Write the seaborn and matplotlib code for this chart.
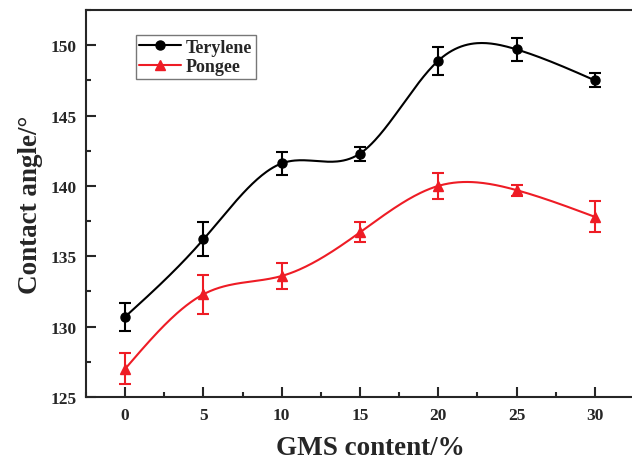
import numpy as np
import pandas as pd
import matplotlib
matplotlib.use("Agg")
import matplotlib.pyplot as plt
from matplotlib.lines import Line2D
import seaborn as sns

gms = [0, 5, 10, 15, 20, 25, 30]
terylene = [130.7, 136.2, 141.6, 142.3, 148.9, 149.7, 147.5]
terylene_err = [1.0, 1.2, 0.8, 0.5, 1.0, 0.8, 0.5]
pongee = [127.0, 132.3, 133.6, 136.7, 140.0, 139.7, 137.8]
pongee_err = [1.1, 1.4, 0.9, 0.7, 0.9, 0.4, 1.1]


def natural_spline(x, y, n=300):
    # natural cubic spline through the points, like Origin's "spline" connect
    x = np.asarray(x, float)
    y = np.asarray(y, float)
    k = len(x)
    h = np.diff(x)
    A = np.zeros((k, k))
    b = np.zeros(k)
    A[0, 0] = A[-1, -1] = 1
    for i in range(1, k - 1):
        A[i, i - 1] = h[i - 1]
        A[i, i] = 2 * (h[i - 1] + h[i])
        A[i, i + 1] = h[i]
        b[i] = 6 * ((y[i + 1] - y[i]) / h[i] - (y[i] - y[i - 1]) / h[i - 1])
    m = np.linalg.solve(A, b)
    xs = np.linspace(x[0], x[-1], n)
    idx = np.clip(np.searchsorted(x, xs) - 1, 0, k - 2)
    x0, x1 = x[idx], x[idx + 1]
    hh = x1 - x0
    t0, t1 = x1 - xs, xs - x0
    ys = (m[idx] * t0**3 + m[idx + 1] * t1**3) / (6 * hh) \
        + (y[idx] / hh - m[idx] * hh / 6) * t0 \
        + (y[idx + 1] / hh - m[idx + 1] * hh / 6) * t1
    return xs, ys


sns.set_style("ticks")
plt.rcParams["font.family"] = ["Liberation Serif", "DejaVu Serif"]
plt.rcParams["font.weight"] = "bold"

fig = plt.figure(figsize=(6.32, 4.6), dpi=100)
ax = fig.add_axes([86 / 632, 62 / 460, 548 / 632, 387 / 460])

series = [
    ("Terylene", terylene, terylene_err, "black", "o", 6.5),
    ("Pongee", pongee, pongee_err, "#ee1c25", "^", 7.5),
]
handles = []
for name, vals, errs, color, mk, ms in series:
    xs, ys = natural_spline(gms, vals)
    curve = pd.DataFrame({"x": xs, "y": ys})
    sns.lineplot(data=curve, x="x", y="y", ax=ax, color=color, lw=1.5,
                 sort=False, estimator=None)
    ax.errorbar(gms, vals, yerr=errs, fmt=mk, color=color, ms=ms,
                capsize=4, capthick=1.5, elinewidth=1.5, zorder=3)
    handles.append(Line2D([], [], color=color, marker=mk, ms=ms, lw=1.5, label=name))

ax.set_xlim(-2.5, 32.5)
ax.set_ylim(125, 152.5)
ax.set_xticks(gms)
ax.set_yticks([125, 130, 135, 140, 145, 150])
ax.set_xticks(np.arange(-2.5, 33, 2.5), minor=True)
ax.set_yticks(np.arange(125, 153, 2.5), minor=True)
ax.tick_params(direction="in", which="both", labelsize=12.5, width=1.5)
ax.tick_params(which="major", length=7)
ax.tick_params(which="minor", length=3.5)
ax.tick_params(axis="y", pad=6.5)
ax.tick_params(axis="x", pad=7)
for lab in ax.get_xticklabels() + ax.get_yticklabels():
    lab.set_fontweight("bold")
for sp in ax.spines.values():
    sp.set_linewidth(1.5)
ax.spines["top"].set_visible(True)
ax.spines["right"].set_visible(False)

ax.set_xlabel("GMS content/%", fontsize=19.5, fontweight="bold")
ax.set_ylabel("Contact angle/°", fontsize=19.5, fontweight="bold", labelpad=6)
ax.xaxis.set_label_coords((370 - 86) / 548, -0.097)

leg = ax.legend(handles=handles, loc="upper left", bbox_to_anchor=(0.091, 0.935),
                borderaxespad=0, frameon=True, fancybox=False, edgecolor="#555555",
                prop={"weight": "bold", "size": 13}, handlelength=2.3,
                handletextpad=0.25, borderpad=0.2, labelspacing=0.15)
leg.get_frame().set_linewidth(1.0)

fig.savefig("out.png", dpi=100)
